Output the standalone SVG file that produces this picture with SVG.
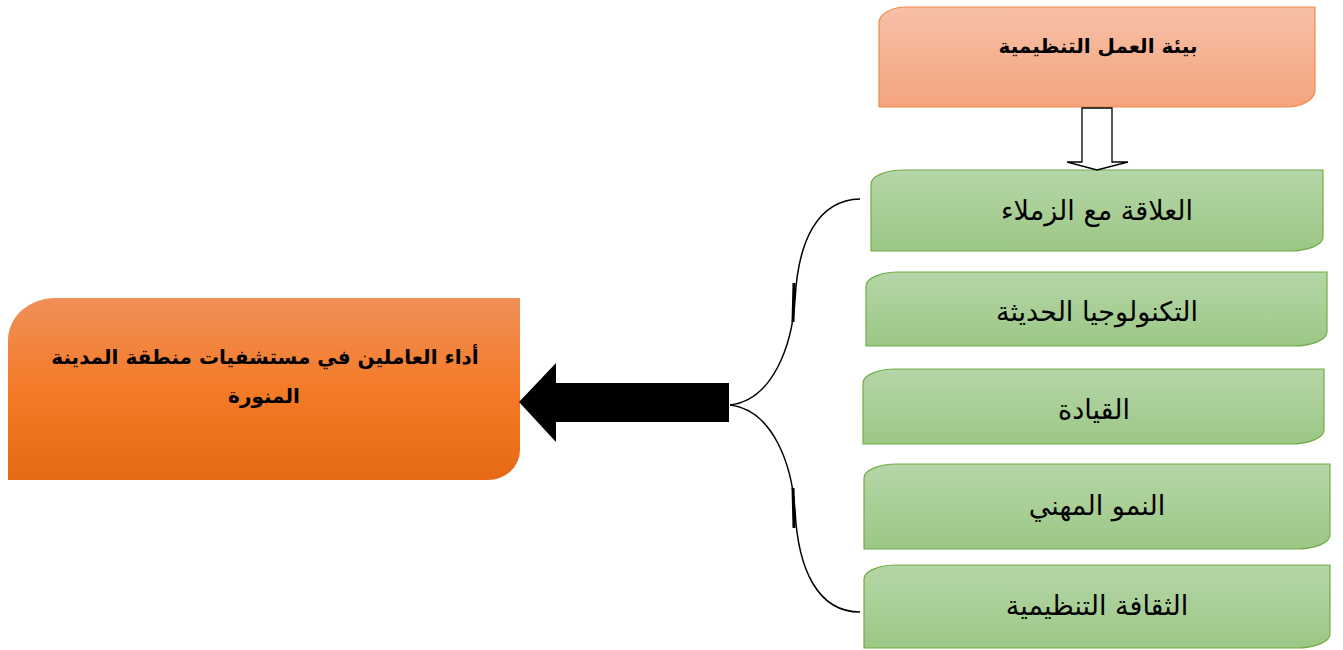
<svg xmlns="http://www.w3.org/2000/svg" width="1343" height="650" viewBox="0 0 1343 650">
<defs>
<linearGradient id="gPeach" x1="0" y1="0" x2="0" y2="1">
<stop offset="0" stop-color="#F8C0A6"/><stop offset="1" stop-color="#F4A47F"/>
</linearGradient>
<linearGradient id="gOrange" x1="0" y1="0" x2="0" y2="1">
<stop offset="0" stop-color="#F08F58"/><stop offset="0.5" stop-color="#F47B28"/><stop offset="1" stop-color="#E66A14"/>
</linearGradient>
<linearGradient id="gGreen" x1="0" y1="0" x2="0" y2="1">
<stop offset="0" stop-color="#B5D6A7"/><stop offset="1" stop-color="#9CC785"/>
</linearGradient>
</defs>
<style>
.green{fill:url(#gGreen);stroke:#70AD47;stroke-width:1.2}
.lbl{font-family:"DejaVu Sans",sans-serif;font-size:27px;fill:#000;text-anchor:middle}
.bold{font-family:"DejaVu Sans",sans-serif;font-weight:bold;font-size:20px;fill:#000;text-anchor:middle}
.curve{fill:none;stroke:#000;stroke-width:1.5}
.tick{fill:none;stroke:#000;stroke-width:3}
</style>
<g id="top">
<path d="M906,7 L1315,7 L1315,90 A28,17 0 0 1 1287,107 L879,107 L879,23 A27,16 0 0 1 906,7 Z" fill="url(#gPeach)" stroke="#F08A48" stroke-width="1.2"/>
<text class="bold" x="1098" y="53">بيئة العمل التنظيمية</text>
</g>
<g id="main">
<path d="M55,298 L520,298 L520,450 A32,30 0 0 1 488,480 L8,480 L8,340 A47,42 0 0 1 55,298 Z" fill="url(#gOrange)"/>
<text class="bold" x="265" y="364">أداء العاملين في مستشفيات منطقة المدينة</text>
<text class="bold" x="264" y="403">المنورة</text>
</g>
<g id="n1">
<path d="M904,170 L1323,170 L1323,237 A33,14 0 0 1 1290,251 L871,251 L871,184 A33,14 0 0 1 904,170 Z" class="green"/>
<text class="lbl" x="1097" y="220">العلاقة مع الزملاء</text>
</g>
<g id="n2">
<path d="M899,272 L1327,272 L1327,332 A33,14 0 0 1 1294,346 L866,346 L866,286 A33,14 0 0 1 899,272 Z" class="green"/>
<text class="lbl" x="1097" y="321">التكنولوجيا الحديثة</text>
</g>
<g id="n3">
<path d="M896,369 L1324,369 L1324,430 A33,14 0 0 1 1291,444 L863,444 L863,383 A33,14 0 0 1 896,369 Z" class="green"/>
<text class="lbl" x="1094" y="419">القيادة</text>
</g>
<g id="n4">
<path d="M897,464 L1330,464 L1330,535 A33,14 0 0 1 1297,549 L864,549 L864,478 A33,14 0 0 1 897,464 Z" class="green"/>
<text class="lbl" x="1097" y="515">النمو المهني</text>
</g>
<g id="n5">
<path d="M897,565 L1330,565 L1330,634 A33,14 0 0 1 1297,648 L864,648 L864,579 A33,14 0 0 1 897,565 Z" class="green"/>
<text class="lbl" x="1097" y="615">الثقافة التنظيمية</text>
</g>
<g id="connectors">
<path d="M1082,108 L1112,108 L1112,162 L1128,162 L1097,170 L1067,162 L1082,162 Z" fill="#fff" stroke="#000" stroke-width="1.3"/>
<path d="M729,383 L556,383 L556,363 L519,402 L556,442 L556,422 L729,422 Z" fill="#000"/>
<path class="curve" d="M730,405 C773,400 792,345 795,300 C798,240 818,200 860,199"/>
<path class="curve" d="M730,405 C773,410 792,465 795,510 C798,570 818,612 860,612"/>
<path class="tick" d="M794,283 L793,322"/>
<path class="tick" d="M793,488 L794,528"/>
</g>
</svg>
